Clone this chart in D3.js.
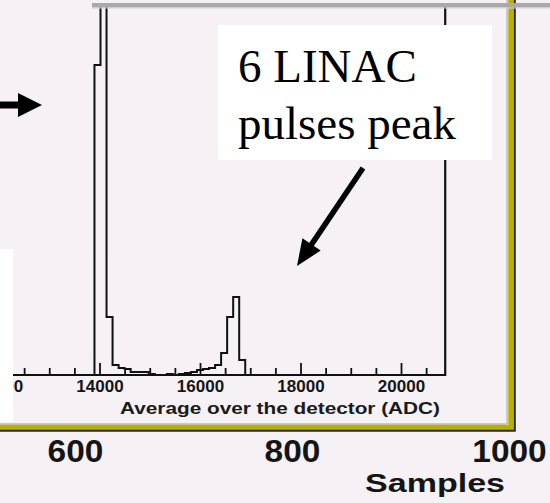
<!DOCTYPE html>
<html>
<head>
  <script src="https://cdnjs.cloudflare.com/ajax/libs/d3/7.8.5/d3.min.js"></script>
  <style>
    body { margin: 0; background: #f5f1f5; }
    svg { display: block; }
    .tick text { font-family: "Liberation Sans", Arial, sans-serif; font-weight: bold; fill: #151515; }
    .tick line { stroke: #111; stroke-width: 1.8px; }
  </style>
</head>
<body>
<svg width="550" height="503"></svg>
<script>
// inset histogram: lower edge of each bin (ADC) and its height (arbitrary units)
var binWidth = 120;
var binLow = [13900, 14020, 14140, 14260, 14380, 14500, 14620, 14740, 14860, 14980,
              15100, 15220, 15340, 15460, 15580, 15700, 15820, 15940, 16060, 16180,
              16300, 16420, 16540, 16660, 16780, 16900];
var binCounts = [310, 1200, 58, 10, 7, 6, 3, 3, 3, 1,
                 0, 0, 1, 0, 1, 2, 3, 5, 6, 7,
                 10, 22, 58, 78, 15, 0];
var adcTicks = [12000, 14000, 16000, 18000, 20000];
var sampleTicks = [600, 800, 1000];
var noteLines = ["6 LINAC", "pulses peak"];

var svg = d3.select("svg");

// outer plot (Samples axis)
var xs = d3.scaleLinear().domain([600, 1000]).range([75, 509]);
var fr = xs(1000) + 2, fb = 427.5;

svg.append("path").attr("d", "M" + (fr - 4) + ",-10V" + (fb - 3.5) + "H-10")
  .attr("fill", "none").attr("stroke", "#a0a0a0").attr("stroke-width", 1);
svg.append("path").attr("d", "M" + fr + ",-10V" + fb + "H-10")
  .attr("fill", "none").attr("stroke", "#b7b000").attr("stroke-width", 5.5);
svg.append("path").attr("d", "M" + (fr + 3.8) + ",-10V" + (fb + 3.2) + "H-10")
  .attr("fill", "none").attr("stroke", "#2a2a2a").attr("stroke-width", 2);

var outerAxis = svg.append("g")
  .attr("transform", "translate(0," + fb + ")")
  .call(d3.axisBottom(xs).tickValues(sampleTicks).tickSize(0).tickFormat(d3.format("d")));
outerAxis.select(".domain").remove();
outerAxis.selectAll("text")
  .attr("y", 34.5).attr("dy", 0)
  .style("font-size", "31px")
  .attr("textLength", d => String(d).length * 18.6)
  .attr("lengthAdjust", "spacingAndGlyphs");

svg.append("text")
  .attr("x", 435).attr("y", 492)
  .attr("text-anchor", "middle")
  .attr("textLength", 140).attr("lengthAdjust", "spacingAndGlyphs")
  .style("font-family", "'Liberation Sans', Arial, sans-serif")
  .style("font-weight", "bold").style("font-size", "25px").style("fill", "#151515")
  .text("Samples");

// inset histogram
var adcMin = 11700, adcMax = 20880;
var x = d3.scaleLinear().domain([14000, 20000]).range([99.5, 401]);
var y = d3.scaleLinear().domain([0, 370]).range([375, 5]);

var inset = svg.append("g");

inset.append("clipPath").attr("id", "insetClip")
  .append("rect")
  .attr("x", x(adcMin)).attr("y", 3)
  .attr("width", x(adcMax) - x(adcMin)).attr("height", y(0) - 3);

var pts = [[binLow[0], 0]];
binLow.forEach((b, i) => pts.push([b, binCounts[i]]));
pts.push([binLow[binLow.length - 1] + binWidth, 0]);

var line = d3.line()
  .x(d => x(d[0]))
  .y(d => y(d[1]))
  .curve(d3.curveStepAfter);

inset.append("path")
  .attr("d", line(pts))
  .attr("clip-path", "url(#insetClip)")
  .attr("fill", "none").attr("stroke", "#111").attr("stroke-width", 2);

var minor = d3.range(12500, adcMax, 500).filter(v => adcTicks.indexOf(v) < 0);
var minorAxis = inset.append("g")
  .attr("transform", "translate(0," + y(0) + ")")
  .call(d3.axisBottom(x).tickValues(minor).tickSize(-7).tickFormat(""));
minorAxis.select(".domain").remove();

var majorAxis = inset.append("g")
  .attr("transform", "translate(0," + y(0) + ")")
  .call(d3.axisBottom(x).tickValues(adcTicks).tickSize(-12).tickFormat(d3.format("d")));
majorAxis.select(".domain").remove();
majorAxis.selectAll("text")
  .attr("y", 17).attr("dy", 0)
  .style("font-size", "17px");

// inset frame (left/top are outside the picture)
inset.append("path")
  .attr("d", "M" + x(adcMin) + ",3V" + y(0) + "H" + x(adcMax) + "V3")
  .attr("fill", "none").attr("stroke", "#111").attr("stroke-width", 2.2);

inset.append("text")
  .attr("x", 280).attr("y", 414)
  .attr("text-anchor", "middle")
  .attr("textLength", 320).attr("lengthAdjust", "spacingAndGlyphs")
  .style("font-family", "'Liberation Sans', Arial, sans-serif")
  .style("font-weight", "bold").style("font-size", "17px").style("fill", "#1a1a1a")
  .text("Average over the detector (ADC)");

// grey edge along the top
svg.append("rect").attr("x", 92).attr("y", 3).attr("width", 460).attr("height", 4.5).attr("fill", "#a9a9a9");
svg.append("rect").attr("x", 92).attr("y", 7.5).attr("width", 460).attr("height", 1).attr("fill", "#d4d2d4");

// white text boxes
svg.append("rect").attr("x", 0).attr("y", 249).attr("width", 13).attr("height", 173).attr("fill", "#fff");
svg.append("rect").attr("x", 218).attr("y", 25).attr("width", 274).attr("height", 135).attr("fill", "#fff");

svg.selectAll(".note").data(noteLines).enter().append("text")
  .attr("class", "note")
  .attr("x", 238).attr("y", (d, i) => 82 + i * 57)
  .style("font-family", "'Liberation Serif', 'Times New Roman', serif")
  .style("font-size", "47px").style("fill", "#000")
  .text(d => d);

function arrow(x1, y1, x2, y2, w, headLen, headHalf) {
  var dx = x2 - x1, dy = y2 - y1, len = Math.sqrt(dx * dx + dy * dy);
  var ux = dx / len, uy = dy / len;
  var bx = x2 - ux * headLen, by = y2 - uy * headLen;
  svg.append("line")
    .attr("x1", x1).attr("y1", y1).attr("x2", bx + ux * 2).attr("y2", by + uy * 2)
    .attr("stroke", "#000").attr("stroke-width", w);
  svg.append("path")
    .attr("d", "M" + x2 + "," + y2 +
      "L" + (bx - uy * headHalf) + "," + (by + ux * headHalf) +
      "L" + (bx + uy * headHalf) + "," + (by - ux * headHalf) + "Z")
    .attr("fill", "#000");
}

arrow(-5, 105, 42, 105, 7, 24, 12);
arrow(363, 168, 297, 266, 5.5, 26, 11);
</script>
</body>
</html>
